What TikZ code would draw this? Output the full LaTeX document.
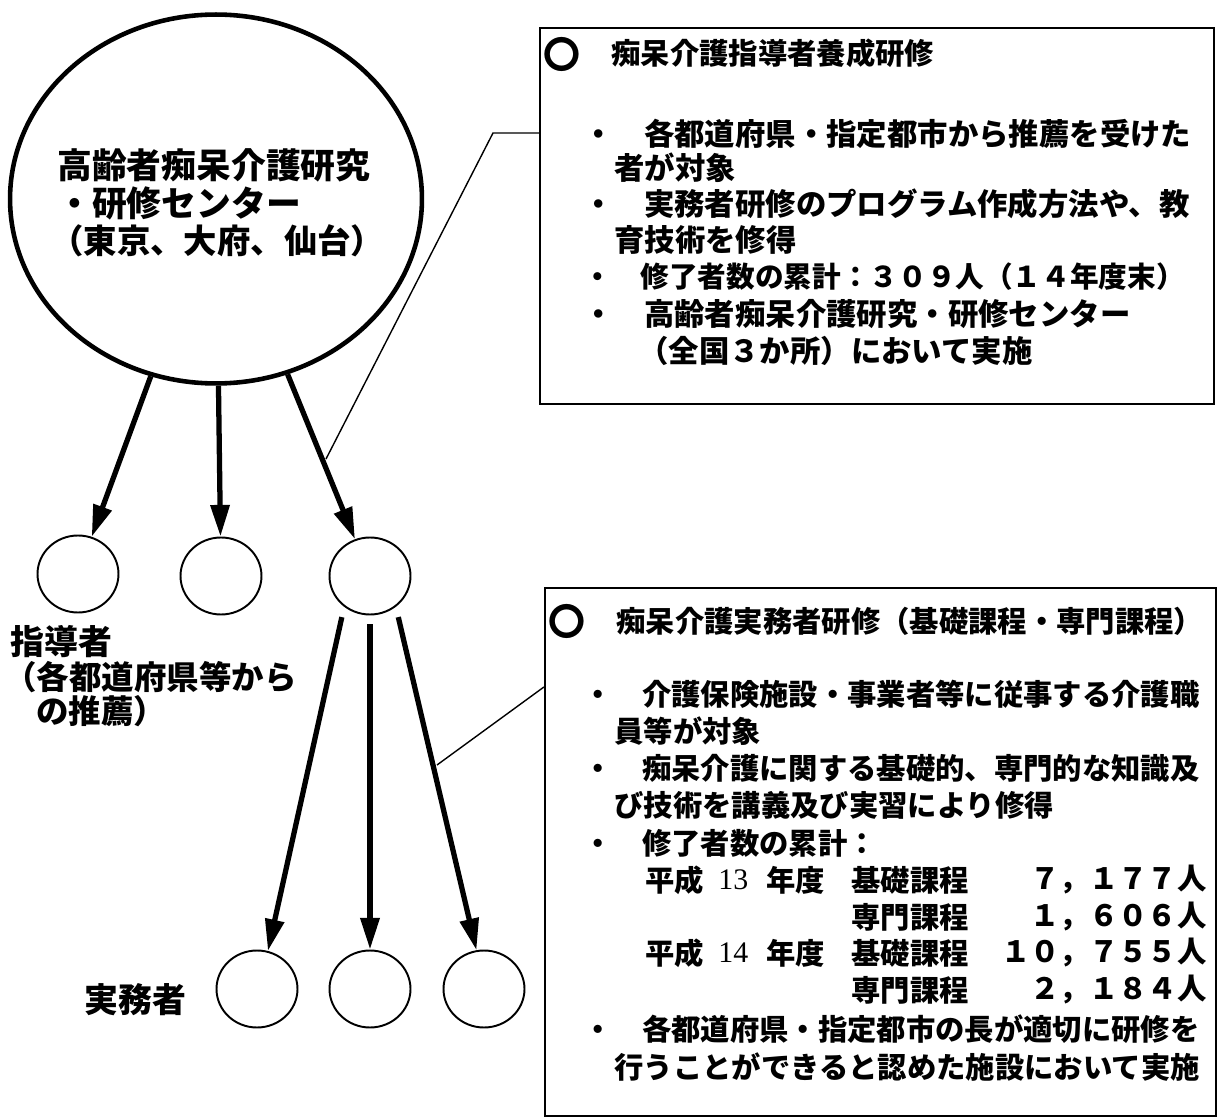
\documentclass[tikz,border=0pt]{standalone}
\usepackage{fontspec}
\setmainfont{Noto Sans CJK JP}
\newfontfamily\numserif{Liberation Serif}
\usetikzlibrary{shapes.geometric,arrows.meta}
\tikzset{
  bigc/.style={ellipse, draw, line width=2.6pt, minimum width=8.24cm, minimum height=7.38cm, inner sep=0pt},
  smallc/.style={ellipse, draw, line width=1.1pt, minimum width=1.62cm, minimum height=1.54cm, inner sep=0pt},
  arr/.style={line width=3pt, -{Triangle[length=18pt,width=10.5pt]}},
  callout/.style={line width=0.8pt},
  infobox/.style={draw, line width=1.3pt, rectangle, inner sep=0pt},
  jt/.style={anchor=west, inner sep=0pt, font=\bfseries\fontsize{16.7}{20}\selectfont},
  jtw/.style={anchor=west, inner sep=0pt, font=\bfseries\fontsize{17.3}{20}\selectfont},
  jtr/.style={anchor=east, inner sep=0pt, font=\bfseries\fontsize{16.7}{20}\selectfont},
  nt/.style={anchor=west, inner sep=0pt, font=\numserif\fontsize{17}{20}\selectfont},
  bigt/.style={anchor=west, inner sep=0pt, font=\bfseries\fontsize{19.8}{22}\selectfont},
  labt/.style={anchor=west, inner sep=0pt, font=\bfseries\fontsize{19.3}{22}\selectfont},
  labs/.style={anchor=west, inner sep=0pt, font=\bfseries\fontsize{18.5}{20}\selectfont},
  ring/.style={anchor=center, inner sep=0pt, font=\bfseries\fontsize{21}{24}\selectfont}
}
\begin{document}
\begin{tikzpicture}[x=0.02cm,y=-0.02cm]
\useasboundingbox (0,0) rectangle (1218,1118);

% big centre circle
\node[bigc] (big) at (216,199) {};
\node[bigt] (bt1) at (57,165) {高齢者痴呆介護研究};
\node[bigt] (bt2) at (57,203) {・研修センター};
\node[bigt, font=\bfseries\fontsize{19}{22}\selectfont] (bt3) at (50,241) {（東京、大府、仙台）};

% first row circles
\node[smallc] (c1) at (78,574) {};
\node[smallc] (c2) at (221,576) {};
\node[smallc] (c3) at (370,576) {};

% second row circles
\node[smallc] (d1) at (257,989) {};
\node[smallc] (d2) at (370,989) {};
\node[smallc] (d3) at (484,989) {};

% labels
\node[labt] (lab1) at (10,642) {指導者};
\node[labs] (lab2) at (4,677) {（各都道府県等から};
\node[labs] (lab3) at (36,711) {の推薦）};
\node[labt] (lab4) at (84,1000) {実務者};

% arrows
\draw[arr] (big) -- (c1);
\draw[arr] (big) -- (c2);
\draw[arr] (big) -- (c3);
\draw[arr, shorten <=6pt] (c3.230) -- (d1.74);
\draw[arr, shorten <=5pt] (c3.270) -- (d2.90);
\draw[arr, shorten <=6pt] (c3.310) -- (d3.101);

% top box
\node[infobox, minimum width=13.48cm, minimum height=7.52cm] (topbox) at (877,216) {};
\node[ring] (tr) at (562,54) {〇};
\node[jt] (tt) at (611,53) {痴呆介護指導者養成研修};
\node[jtw] (t1) at (583,134) {・　各都道府県・指定都市から推薦を受けた};
\node[jtw] (t2) at (614,168) {者が対象};
\node[jtw] (t3) at (583,204) {・　実務者研修のプログラム作成方法や、教};
\node[jtw] (t4) at (614,240) {育技術を修得};
\node[jt, font=\bfseries\fontsize{16.3}{20}\selectfont] (t5) at (583,277) {・　修了者数の累計：３０９人（１４年度末）};
\node[jtw] (t6) at (583,314) {・　高齢者痴呆介護研究・研修センター};
\node[jtw] (t7) at (638,351) {（全国３か所）において実施};

% bottom box
\node[infobox, minimum width=13.42cm, minimum height=10.56cm] (botbox) at (880.5,852) {};
\node[ring] (br) at (567,621) {〇};
\node[jt] (bt) at (616,621) {痴呆介護実務者研修（基礎課程・専門課程）};
\node[jt] (b1) at (583,694) {・　介護保険施設・事業者等に従事する介護職};
\node[jt] (b2) at (614,731) {員等が対象};
\node[jt] (b3) at (583,768) {・　痴呆介護に関する基礎的、専門的な知識及};
\node[jt] (b4) at (614,805) {び技術を講義及び実習により修得};
\node[jt] (b5) at (583,843) {・　修了者数の累計：};
\node[jt] (r1a) at (645,880) {平成};
\node[nt] (r1b) at (718,880) {13};
\node[jt] (r1c) at (766,880) {年度};
\node[jt] (r1d) at (851,880) {基礎課程};
\node[jtr] (r1e) at (1207,880) {７，１７７人};
\node[jt] (r2d) at (851,917) {専門課程};
\node[jtr] (r2e) at (1207,917) {１，６０６人};
\node[jt] (r3a) at (645,953) {平成};
\node[nt] (r3b) at (718,953) {14};
\node[jt] (r3c) at (766,953) {年度};
\node[jt] (r3d) at (851,953) {基礎課程};
\node[jtr] (r3e) at (1207,953) {１０，７５５人};
\node[jt] (r4d) at (851,990) {専門課程};
\node[jtr] (r4e) at (1207,990) {２，１８４人};
\node[jt] (b6) at (583,1029) {・　各都道府県・指定都市の長が適切に研修を};
\node[jt] (b7) at (614,1067) {行うことができると認めた施設において実施};

% callout lines
\coordinate (k1) at (493,133);
\coordinate (e1) at (326,459);
\coordinate (k2) at (545,687);
\coordinate (e2) at (437,765);
\draw[callout] (k1 -| topbox.west) -- (k1) -- (e1);
\draw[callout] (k2 -| botbox.west) -- (e2);
\end{tikzpicture}
\end{document}
